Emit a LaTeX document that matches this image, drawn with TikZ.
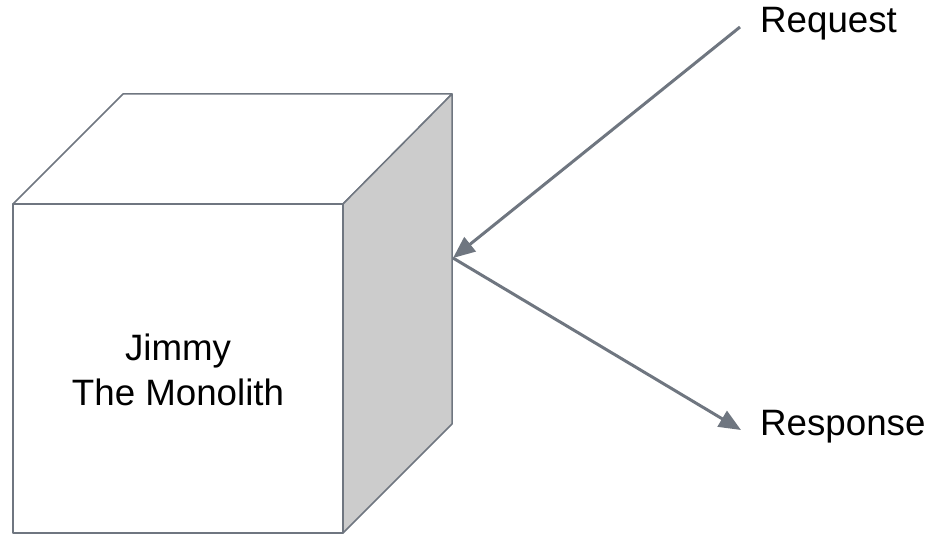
\documentclass[tikz,border=0pt]{standalone}
\usepackage{fontspec}
\setmainfont{Liberation Sans}
\usetikzlibrary{arrows.meta}
\definecolor{edge}{HTML}{6F7680}
\definecolor{side}{HTML}{CCCCCC}
\tikzset{
  cubeline/.style={draw=edge, line width=1.5pt, line join=round},
  flow/.style={draw=edge, line width=3pt, -{Triangle[length=22pt,width=18pt]}},
  label/.style={font=\fontsize{36.7pt}{45pt}\selectfont, inner sep=0pt, text=black},
}
\begin{document}
\begin{tikzpicture}[x=1pt,y=-1pt]
\useasboundingbox (0,0) rectangle (936,534);
% cube corners
\coordinate (ftl) at (13,204);
\coordinate (ftr) at (343,204);
\coordinate (fbl) at (13,533);
\coordinate (fbr) at (343,533);
\coordinate (btl) at (123,94);
\coordinate (btr) at (452,94);
\coordinate (bbr) at (452,424);
% faces
\path[cubeline, fill=white] (ftl) -- (btl) -- (btr) -- (ftr) -- cycle;
\path[cubeline, fill=side] (ftr) -- (btr) -- (bbr) -- (fbr) -- cycle;
\path[cubeline, fill=white] (ftl) -- (ftr) -- (fbr) -- (fbl) -- cycle;
\node[label, align=center, anchor=base] (jimmy) at (178,405) {Jimmy\\The Monolith};
% labels
\node[label, anchor=base west] (req) at (760,33) {Request};
\node[label, anchor=base west] (resp) at (760,435) {Response};
\coordinate (reqstart) at (740,27);
\coordinate (j) at (453,258);
\coordinate (respend) at (741,430);
\draw[flow] (reqstart) -- (j);
\draw[flow] (j) -- (respend);
\end{tikzpicture}
\end{document}
